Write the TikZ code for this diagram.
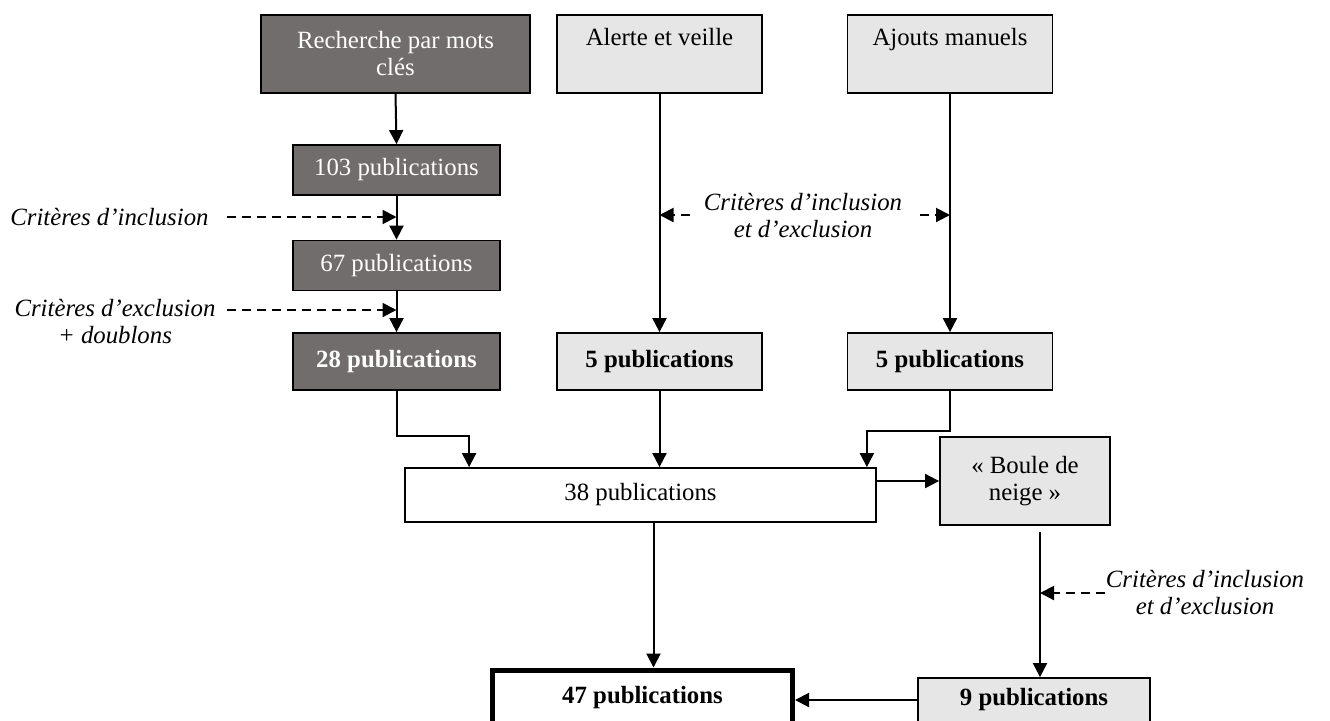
\documentclass[tikz,border=0pt]{standalone}
\usepackage{fontspec}
\setmainfont{Liberation Serif}
\definecolor{boxdark}{HTML}{716D6C}
\definecolor{boxlight}{HTML}{E6E6E6}
\usetikzlibrary{arrows.meta,positioning}

\begin{document}
\begin{tikzpicture}[
  x=0.5pt, y=-0.5pt,
  every node/.style={font=\fontsize{12.4}{13.5}\selectfont},
  darkbox/.style={draw,line width=0.9pt,fill=boxdark,text=white,align=center,inner sep=2pt},
  lightbox/.style={draw,line width=0.9pt,fill=boxlight,align=center,inner sep=2pt},
  whitebox/.style={draw,line width=0.9pt,fill=white,align=center,inner sep=2pt},
  crit/.style={font=\itshape\fontsize{12.4}{13.5}\selectfont,align=center,inner sep=0pt},
  arr/.style={line width=1pt,-{Triangle[length=7pt,width=7pt]}},
  dasharr/.style={line width=1pt,dash pattern=on 4.5pt off 3pt,-{Triangle[length=7pt,width=7pt]}},
]
  \clip (0,0) rectangle (1330,720);

  % Sources
  \node[darkbox,minimum width=134.5pt,minimum height=39pt] (rech) at (395.5,54)
    {Recherche par mots\\clés};
  \node[lightbox,minimum width=102.5pt,minimum height=39pt] (alerte) at (659.5,54)
    {Alerte et veille\\\strut};
  \node[lightbox,minimum width=102.5pt,minimum height=39pt] (ajout) at (950,54)
    {Ajouts manuels\\\strut};

  % Keyword search branch
  \node[darkbox,minimum width=103.5pt,minimum height=25pt] (p103) at (396.5,170) {103 publications};
  \node[darkbox,minimum width=103.5pt,minimum height=25pt] (p67) at (396.5,265.5) {67 publications};
  \node[darkbox,minimum width=103.5pt,minimum height=28.5pt] (p28) at (396.5,361.5) {\textbf{28 publications}};

  % Other branches
  \node[lightbox,minimum width=102.5pt,minimum height=28.5pt] (p5a) at (659.5,361.5) {\textbf{5 publications}};
  \node[lightbox,minimum width=102.5pt,minimum height=28.5pt] (p5b) at (950,361.5) {\textbf{5 publications}};

  % Merge
  \node[whitebox,minimum width=235.5pt,minimum height=27pt] (p38) at (640.5,495) {38 publications};
  \node[lightbox,minimum width=85pt,minimum height=44pt] (boule) at (1025,481) {« Boule de\\neige »};

  % Result
  \node[draw,line width=2.5pt,fill=white,minimum width=150pt,minimum height=28pt] (p47) at (642.5,698)
    {\textbf{47 publications}};
  \node[lightbox,minimum width=116pt,minimum height=22pt] (p9) at (1034,700) {\textbf{9 publications}};

  % Criteria labels
  \node[crit,anchor=west] (crit1) at (10,217) {Critères d’inclusion};
  \node[crit] (crit2) at (115,322) {Critères d’exclusion\\+ doublons};
  \node[crit] (crit3) at (803,216) {Critères d’inclusion\\et d’exclusion};
  \node[crit] (crit4) at (1205,593) {Critères d’inclusion\\et d’exclusion};

  \coordinate (dA) at (227,217);
  \coordinate (dB) at (227,310);
  \coordinate (dC) at (690,215);
  \coordinate (dD) at (920,215);
  \coordinate (dE) at (1105,593);

  % Connectors
  \draw[arr] (rech.south) -- (p103.north);
  \draw[arr] (p103.south) -- (p67.north);
  \draw[arr] (p67.south) -- (p28.north);
  \draw[arr] (alerte.south) -- (p5a.north);
  \draw[arr] (ajout.south) -- (p5b.north);
  \draw[arr] (p28.south) -- ++(0,45) -| ([xshift=32.5pt]p38.north west);
  \draw[arr] (p5a.south) -- (p5a.south |- p38.north);
  \draw[arr] (p5b.south) -- ++(0,40) -| ([xshift=-5pt]p38.north east);
  \draw[arr] (p38.east |- boule.west) -- (boule.west);
  \draw[arr] ([xshift=6.5pt]p38.south) coordinate (ps) -- (ps |- p47.north);
  \draw[arr] ([xshift=7.5pt,yshift=-3pt]boule.south) coordinate (bs) -- (bs |- p9.north);
  \draw[arr] (p9.west) -- (p47.east |- p9.west);

  % Dashed criteria arrows
  \draw[dasharr] (dA) -- (p103.south |- dA);
  \draw[dasharr] (dB) -- (p67.south |- dB);
  \draw[dasharr] (dC) -- (alerte.south |- dC);
  \draw[dasharr] (dD) -- (ajout.south |- dD);
  \draw[dasharr] (dE) -- (bs |- dE);
\end{tikzpicture}
\end{document}
